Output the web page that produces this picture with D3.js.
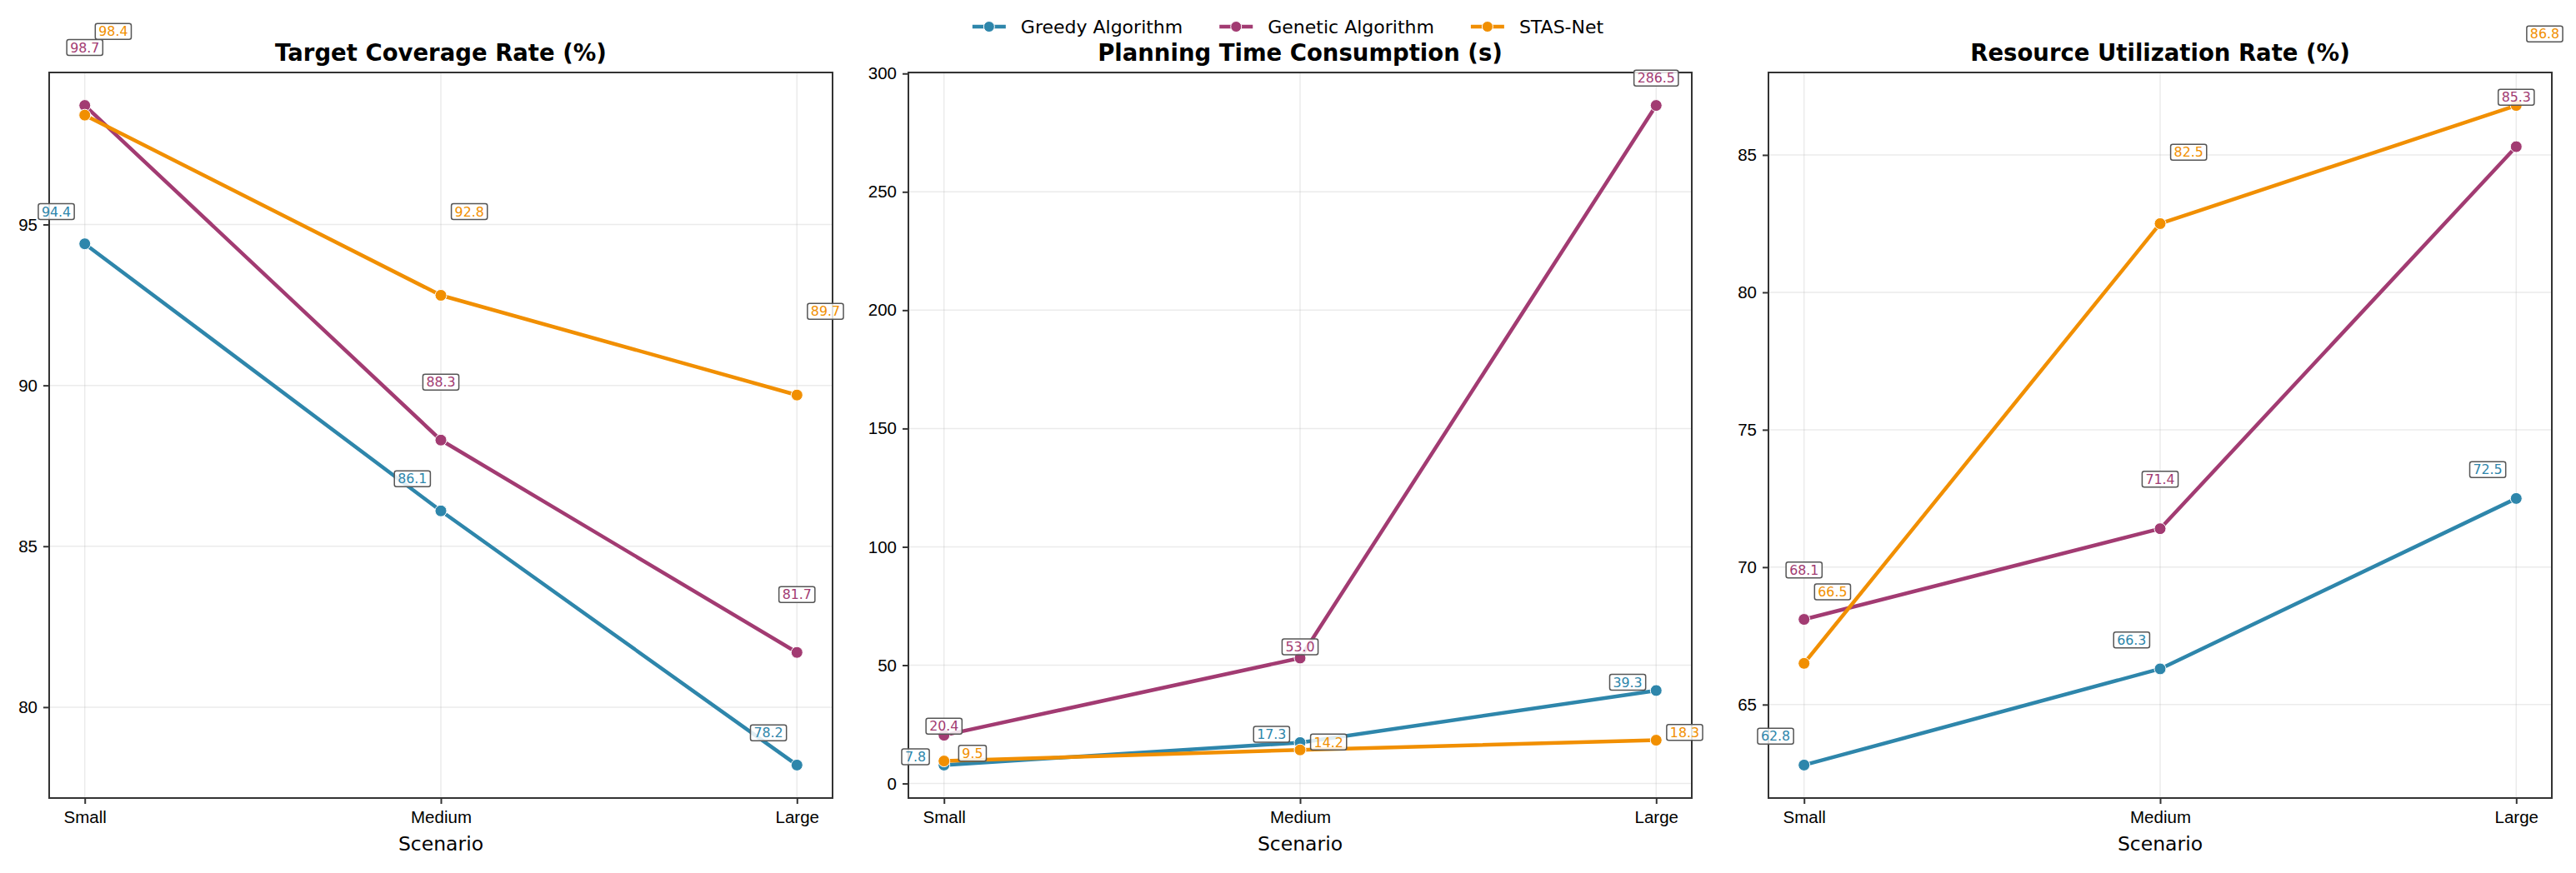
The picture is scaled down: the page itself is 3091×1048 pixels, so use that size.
<!DOCTYPE html>
<html>
<head>
<meta charset="utf-8">
<script src="https://cdn.jsdelivr.net/npm/d3@7"></script>
<style>
  body { margin: 0; background: #fff; }
  svg { display: block; font-family: "DejaVu Sans", sans-serif; }
</style>
</head>
<body>
<svg id="chart"></svg>
<script>
// scenarios on the x axis, one line per method
const scenarios = ["Small", "Medium", "Large"];
const methods = ["Greedy Algorithm", "Genetic Algorithm", "STAS-Net"];
const colors = ["#2E86AB", "#A23B72", "#F18F01"];

// target coverage rate (%)
const greedyCoverage = [94.4, 86.1, 78.2];
const geneticCoverage = [98.7, 88.3, 81.7];
const stasCoverage = [98.4, 92.8, 89.7];

// planning time (s)
const greedyTime = [7.8, 17.3, 39.3];
const geneticTime = [20.4, 53.0, 286.5];
const stasTime = [9.5, 14.2, 18.3];

// resource utilization rate (%)
const greedyUtil = [62.8, 66.3, 72.5];
const geneticUtil = [68.1, 71.4, 85.3];
const stasUtil = [66.5, 82.5, 86.8];

const titles = ["Target Coverage Rate (%)", "Planning Time Consumption (s)", "Resource Utilization Rate (%)"];
const coverageTicks = [80, 85, 90, 95];
const timeTicks = [0, 50, 100, 150, 200, 250, 300];
const utilTicks = [65, 70, 75, 80, 85];

const panels = [
  { title: titles[0], series: [greedyCoverage, geneticCoverage, stasCoverage], ticks: coverageTicks },
  { title: titles[1], series: [greedyTime, geneticTime, stasTime], ticks: timeTicks },
  { title: titles[2], series: [greedyUtil, geneticUtil, stasUtil], ticks: utilTicks },
];

// how far each value label sits above its point (data units: a + b*v)
const labelLift = [
  [[1.0, 0], [1.8, 0], [2.6, 0]],
  [[3.5, 0], [3.25, 0.029], [3.3, 0]],
  [[1.05, 0], [1.8, 0], [2.6, 0]],
];
const labelShift = [-0.08, 0, 0.08];

const width = 3091;
const height = 1048;
const panelLeft = [59, 1090, 2122];
const panelWidth = 940;
const marginTop = 87;
const plotBottom = 958;

const svg = d3.select("#chart").attr("width", width).attr("height", height);

panels.forEach((p, pi) => {
  const left = panelLeft[pi];
  const all = p.series.flat();
  const lo = d3.min(all);
  const hi = d3.max(all);
  const pad = (hi - lo) * 0.05;

  const xScale = d3.scaleLinear().domain([-0.1, 2.1]).range([left, left + panelWidth]);
  const yScale = d3.scaleLinear().domain([lo - pad, hi + pad]).range([plotBottom, marginTop]);

  const g = svg.append("g");

  // grid
  g.append("g")
    .selectAll("line.hgrid")
    .data(p.ticks)
    .join("line")
    .attr("x1", left)
    .attr("x2", left + panelWidth)
    .attr("y1", (d) => yScale(d))
    .attr("y2", (d) => yScale(d))
    .attr("stroke", "#b0b0b0")
    .attr("stroke-opacity", 0.25)
    .attr("stroke-width", 1.5);

  g.append("g")
    .selectAll("line.vgrid")
    .data(scenarios)
    .join("line")
    .attr("x1", (d, i) => xScale(i))
    .attr("x2", (d, i) => xScale(i))
    .attr("y1", marginTop)
    .attr("y2", plotBottom)
    .attr("stroke", "#b0b0b0")
    .attr("stroke-opacity", 0.25)
    .attr("stroke-width", 1.5);

  // axes
  const xAxis = d3
    .axisBottom(xScale)
    .tickValues([0, 1, 2])
    .tickFormat((d) => scenarios[d])
    .tickSizeInner(7)
    .tickSizeOuter(0)
    .tickPadding(8);

  const yAxis = d3
    .axisLeft(yScale)
    .tickValues(p.ticks)
    .tickSizeInner(7)
    .tickSizeOuter(0)
    .tickPadding(7);

  const gx = g.append("g").attr("transform", `translate(0, ${plotBottom})`).call(xAxis);
  const gy = g.append("g").attr("transform", `translate(${left}, 0)`).call(yAxis);

  [gx, gy].forEach((ax) => {
    ax.select(".domain").remove();
    ax.selectAll(".tick line").attr("stroke", "#333").attr("stroke-width", 2);
    ax.selectAll(".tick text").attr("font-size", 20.5).attr("fill", "#000");
  });

  // frame
  g.append("rect")
    .attr("x", left)
    .attr("y", marginTop)
    .attr("width", panelWidth)
    .attr("height", plotBottom - marginTop)
    .attr("fill", "none")
    .attr("stroke", "#333")
    .attr("stroke-width", 2);

  // title and x label
  g.append("text")
    .attr("x", left + panelWidth / 2)
    .attr("y", 73)
    .attr("text-anchor", "middle")
    .attr("font-size", 27.5)
    .attr("font-weight", "bold")
    .text(p.title);

  g.append("text")
    .attr("x", left + panelWidth / 2)
    .attr("y", 1021)
    .attr("text-anchor", "middle")
    .attr("font-size", 23.5)
    .text("Scenario");

  // lines and points
  const line = d3
    .line()
    .x((d, i) => xScale(i))
    .y((d) => yScale(d));

  p.series.forEach((vals, si) => {
    g.append("path")
      .datum(vals)
      .attr("d", line)
      .attr("fill", "none")
      .attr("stroke", colors[si])
      .attr("stroke-width", 4.5)
      .attr("stroke-linejoin", "round");

    g.append("g")
      .selectAll("circle")
      .data(vals)
      .join("circle")
      .attr("cx", (d, i) => xScale(i))
      .attr("cy", (d) => yScale(d))
      .attr("r", 7)
      .attr("fill", colors[si])
      .attr("stroke", "#fff")
      .attr("stroke-width", 1);
  });

  // value labels in little boxes
  p.series.forEach((vals, si) => {
    const [a, b] = labelLift[pi][si];
    vals.forEach((v, i) => {
      const lx = xScale(i + labelShift[si]);
      const ly = yScale(v + a + b * v);
      const lg = g.append("g");
      const rect = lg.append("rect");
      const t = lg
        .append("text")
        .attr("x", lx)
        .attr("y", ly)
        .attr("dy", "0.36em")
        .attr("text-anchor", "middle")
        .attr("font-size", 15.8)
        .attr("fill", colors[si])
        .text(v.toFixed(1));
      const bb = t.node().getBBox();
      rect
        .attr("x", lx - bb.width / 2 - 4)
        .attr("y", ly - 9.5)
        .attr("width", bb.width + 8)
        .attr("height", 19)
        .attr("rx", 2.5)
        .attr("fill", "#fff")
        .attr("fill-opacity", 0.85)
        .attr("stroke", "#555")
        .attr("stroke-width", 1.5);
    });
  });
});

// legend across the top
const legend = svg.append("g");
let cursor = 0;
methods.forEach((m, i) => {
  const item = legend.append("g").attr("transform", `translate(${cursor}, 0)`);
  item.append("line")
    .attr("x1", 0)
    .attr("x2", 40)
    .attr("y1", 0)
    .attr("y2", 0)
    .attr("stroke", colors[i])
    .attr("stroke-width", 4.5);
  item.append("circle")
    .attr("cx", 20)
    .attr("cy", 0)
    .attr("r", 6.5)
    .attr("fill", colors[i])
    .attr("stroke", "#fff")
    .attr("stroke-width", 1);
  const t = item.append("text")
    .attr("x", 58)
    .attr("y", 0)
    .attr("dy", "0.36em")
    .attr("font-size", 22)
    .text(m);
  cursor += 58 + t.node().getComputedTextLength() + 44;
});
const legendWidth = cursor - 44;
legend.attr("transform", `translate(${width / 2 - legendWidth / 2}, 32)`);
</script>
</body>
</html>
